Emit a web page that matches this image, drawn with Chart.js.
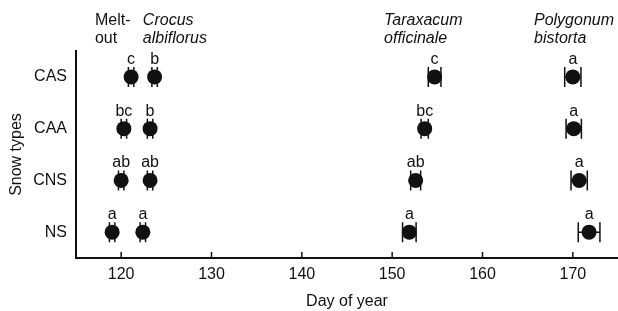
<!DOCTYPE html>
<html>
<head>
<meta charset="utf-8">
<script src="https://cdn.jsdelivr.net/npm/chart.js@4"></script>
<style>
  html, body { margin: 0; padding: 0; background: #fff; }
  #wrap { width: 618px; height: 311px; }
</style>
</head>
<body>
<div id="wrap"><canvas id="phenology-chart" width="618" height="311"></canvas></div>
<script>
// Snow types, top to bottom
const snowTypes = ["CAS", "CAA", "CNS", "NS"];
const xTicks = [120, 130, 140, 150, 160, 170];

// Column headers (first line, second line, italic?)
const headers = [
  ["Melt-", "out", false],
  ["Crocus", "albiflorus", true],
  ["Taraxacum", "officinale", true],
  ["Polygonum", "bistorta", true]
];
// Day of year where each header starts
const headerAnchor = [117.1, 122.4, 149.1, 165.7];

// Mean day of year per snow type (CAS, CAA, CNS, NS)
const meltOut   = [121.1, 120.3, 120.0, 119.0];
const crocus    = [123.7, 123.2, 123.2, 122.4];
const taraxacum = [154.7, 153.6, 152.6, 151.9];
const polygonum = [170.0, 170.1, 170.7, 171.8];

// Error (± days)
const meltOutErr   = [0.3, 0.3, 0.3, 0.3];
const crocusErr    = [0.3, 0.3, 0.3, 0.3];
const taraxacumErr = [0.7, 0.4, 0.55, 0.75];
const polygonumErr = [0.9, 0.85, 0.9, 1.2];

// Significance letters
const meltOutLetters   = ["c", "bc", "ab", "a"];
const crocusLetters    = ["b", "b", "ab", "a"];
const taraxacumLetters = ["c", "bc", "ab", "a"];
const polygonumLetters = ["a", "a", "a", "a"];

const means = [meltOut, crocus, taraxacum, polygonum];
const errs = [meltOutErr, crocusErr, taraxacumErr, polygonumErr];
const letters = [meltOutLetters, crocusLetters, taraxacumLetters, polygonumLetters];

const FONT = "'Liberation Sans', Arial, Helvetica, sans-serif";

const overlay = {
  id: "overlay",
  beforeDatasetsDraw(chart) {
    const { ctx, scales: { x, y } } = chart;
    ctx.save();
    ctx.strokeStyle = "#111";
    ctx.lineWidth = 1.5;
    means.forEach((col, i) => {
      col.forEach((m, j) => {
        const py = y.getPixelForValue(j);
        const xl = x.getPixelForValue(m - errs[i][j]);
        const xr = x.getPixelForValue(m + errs[i][j]);
        ctx.beginPath();
        ctx.moveTo(xl, py); ctx.lineTo(xr, py);
        ctx.moveTo(xl, py - 10); ctx.lineTo(xl, py + 10);
        ctx.moveTo(xr, py - 10); ctx.lineTo(xr, py + 10);
        ctx.stroke();
      });
    });
    ctx.restore();
  },
  afterDatasetsDraw(chart) {
    const { ctx, chartArea, scales: { x, y } } = chart;
    ctx.save();
    ctx.fillStyle = "#111";
    ctx.font = "16px " + FONT;
    ctx.textAlign = "center";
    ctx.textBaseline = "alphabetic";
    // letters above points
    means.forEach((col, i) => {
      col.forEach((m, j) => {
        ctx.fillText(letters[i][j], x.getPixelForValue(m), y.getPixelForValue(j) - 13);
      });
    });
    // headers
    ctx.textAlign = "left";
    headers.forEach((h, i) => {
      ctx.font = (h[2] ? "italic " : "") + "16px " + FONT;
      const px = x.getPixelForValue(headerAnchor[i]);
      ctx.fillText(h[0], px, 25);
      ctx.fillText(h[1], px, 43);
    });
    // inward x ticks
    ctx.strokeStyle = "#111";
    ctx.lineWidth = 1.5;
    xTicks.forEach(t => {
      const px = x.getPixelForValue(t);
      ctx.beginPath();
      ctx.moveTo(px, chartArea.bottom);
      ctx.lineTo(px, chartArea.bottom - 6);
      ctx.stroke();
    });
    ctx.restore();
  }
};

const datasets = means.map((col, i) => ({
  label: headers[i][0],
  data: col.map((m, j) => ({ x: m, y: snowTypes[j] })),
  pointRadius: 7.5,
  pointHoverRadius: 7.5,
  pointBackgroundColor: "#111",
  pointBorderColor: "#111",
  pointBorderWidth: 0,
  showLine: false
}));

new Chart(document.getElementById("phenology-chart"), {
  type: "scatter",
  data: { datasets },
  plugins: [overlay],
  options: {
    responsive: false,
    animation: false,
    layout: { autoPadding: false, padding: { top: 51, right: 0, left: 0, bottom: 0 } },
    plugins: {
      legend: { display: false },
      tooltip: { enabled: false }
    },
    scales: {
      x: {
        type: "linear",
        min: 115,
        max: 175,
        afterBuildTicks: axis => { axis.ticks = xTicks.map(v => ({ value: v })); },
        afterFit: axis => { axis.height = 53; },
        grid: { display: false, drawTicks: false },
        border: { display: true, color: "#111", width: 2 },
        ticks: { color: "#111", padding: 7, font: { family: FONT, size: 16 } },
        title: {
          display: true,
          text: "Day of year",
          color: "#111",
          padding: { top: 3, bottom: 0 },
          font: { family: FONT, size: 16 }
        }
      },
      y: {
        type: "category",
        labels: snowTypes,
        offset: true,
        afterFit: axis => { axis.width = 76; },
        grid: { display: false, drawTicks: false, offset: true },
        border: { display: true, color: "#111", width: 2 },
        ticks: { color: "#111", padding: 9, font: { family: FONT, size: 16 } },
        title: {
          display: true,
          text: "Snow types",
          color: "#111",
          padding: { top: 7, bottom: 0 },
          font: { family: FONT, size: 16 }
        }
      }
    }
  }
});
</script>
</body>
</html>
